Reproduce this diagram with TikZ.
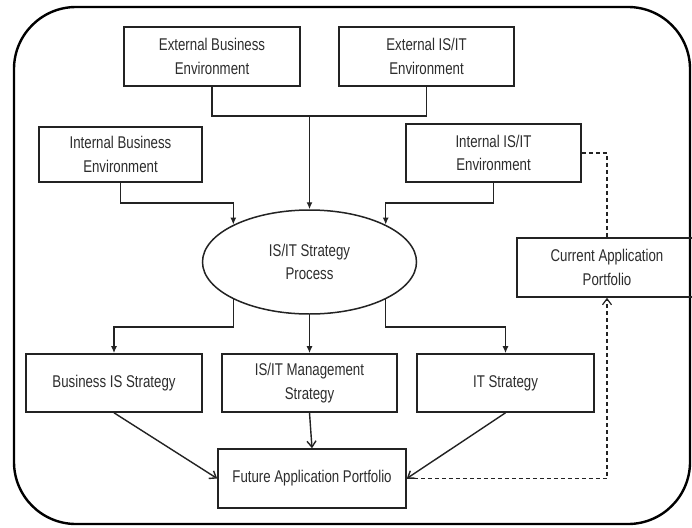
\documentclass[tikz,border=0pt]{standalone}
\usepackage{fontspec}
\setmainfont{Liberation Sans}[FakeStretch=0.78]
\usetikzlibrary{shapes.geometric,arrows.meta,calc}
\definecolor{textc}{RGB}{45,45,45}
\definecolor{linec}{RGB}{35,35,35}
\newcommand{\lblsz}{\fontsize{17}{23.5}\selectfont}
\begin{document}
\begin{tikzpicture}[x=1pt,y=-1pt,
  box/.style={draw=linec, line width=1.6pt, inner sep=0pt, align=center, font=\lblsz, text=textc},
  proc/.style={ellipse, draw=linec, line width=1.5pt, inner sep=0pt, align=center, font=\lblsz, text=textc, minimum width=214pt, minimum height=104pt},
  conn/.style={draw=linec, line width=1.4pt},
  farrow/.style={conn, -{Latex[length=7pt,width=6pt]}},
  oarrow/.style={conn, -{Straight Barb[length=6pt,width=9pt]}},
  dline/.style={draw=linec, line width=1.2pt, dash pattern=on 4pt off 3pt},
  frame/.style={draw=black, line width=2.4pt, rounded corners=62pt}]
\useasboundingbox (0,0) rectangle (692,527);
\fill[white] (0,0) rectangle (692,527);
\draw[frame] (14,7) rectangle (690,524);

\node[box, minimum width=176pt, minimum height=59pt] (extbus) at (212,56.5) {External Business\\Environment};
\node[box, minimum width=175pt, minimum height=59pt] (extis) at (426.5,56.5) {External IS/IT\\Environment};
\node[box, minimum width=163pt, minimum height=55pt] (intbus) at (120.5,154.5) {Internal Business\\Environment};
\node[box, minimum width=175pt, minimum height=58pt] (intis) at (493.5,153) {Internal IS/IT\\Environment};
\node[proc] (proc) at (309.5,262) {IS/IT Strategy\\Process};
\node[box, minimum width=180pt, minimum height=59pt] (cur) at (607,267.5) {Current Application\\Portfolio};
\node[box, minimum width=176pt, minimum height=58pt] (bis) at (114,383) {Business IS Strategy};
\node[box, minimum width=175pt, minimum height=58pt] (mgmt) at (309.5,383) {IS/IT Management\\Strategy};
\node[box, minimum width=177pt, minimum height=58pt] (its) at (505.5,383) {IT Strategy};
\node[box, minimum width=188pt, minimum height=59pt] (future) at (312,478.5) {Future Application Portfolio};

\coordinate (hj) at (309.5,116);
\coordinate (hb) at (0,203);
\coordinate (lb) at (0,327);

\draw[conn] (extbus.south) |- (hj);
\draw[conn] (extis.south) |- (hj);
\draw[farrow] (hj) -- (proc.north);
\draw[farrow] (intbus.south) |- (proc.north west |- hb) -- (proc.north west);
\draw[farrow] (intis.south) |- (proc.north east |- hb) -- (proc.north east);

\draw[farrow] (proc.south west) |- (bis.north |- lb) -- (bis.north);
\draw[farrow] (proc.south) -- (mgmt.north);
\draw[farrow] (proc.south east) |- (its.north |- lb) -- (its.north);

\draw[oarrow] (bis.south) -- (future.west);
\draw[oarrow] (mgmt.south) -- (future.north);
\draw[oarrow] (its.south) -- (future.east);

\draw[dline] (intis.east) -| (cur.north);
\draw[dline, -{Straight Barb[length=6pt,width=9pt]}] (future.east) -| (cur.south);
\end{tikzpicture}
\end{document}
